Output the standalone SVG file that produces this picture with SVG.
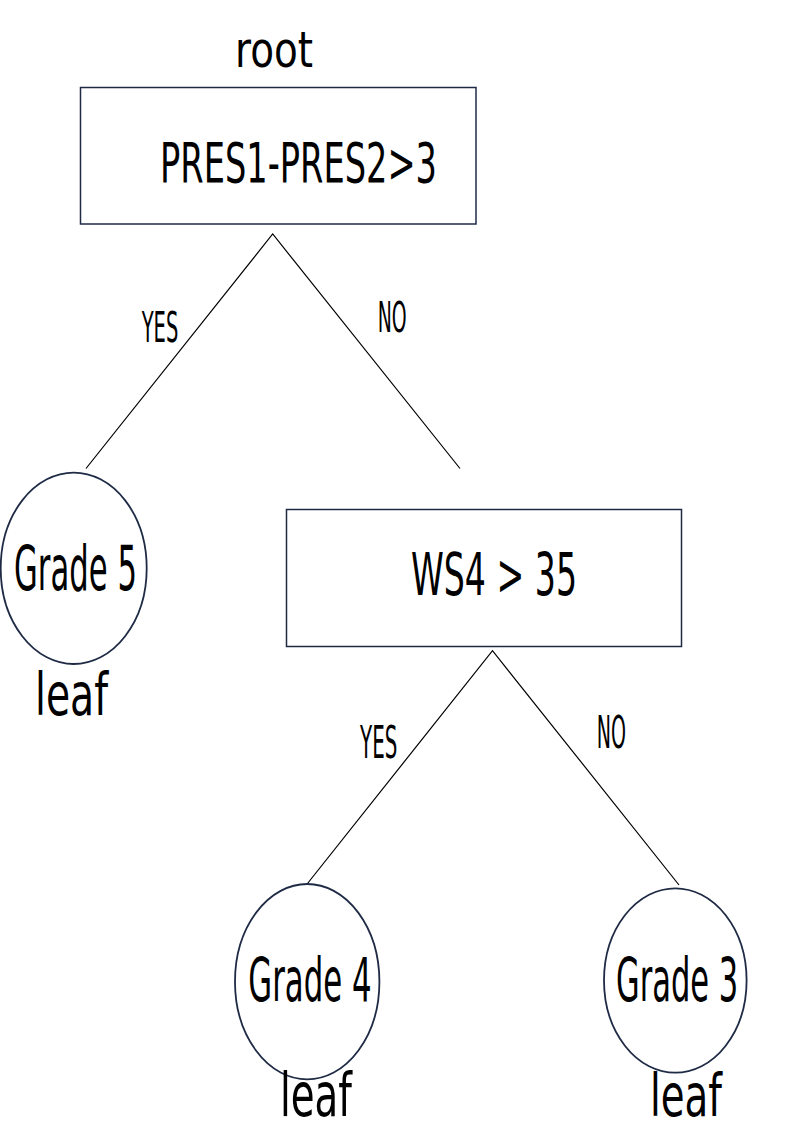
<svg xmlns="http://www.w3.org/2000/svg" width="794" height="1123" viewBox="0 0 794 1123">
<style>
.box{fill:#fff;stroke:#1f2b45;stroke-width:1.5}
.leafnode{fill:#fff;stroke:#1f2b45;stroke-width:1.8}
.edge{stroke:#000;stroke-width:1.2;fill:none}
text{font-family:"DejaVu Sans","Liberation Sans",sans-serif;fill:#000}
</style>
<rect width="794" height="1123" fill="#fff"/>
<g id="connectors">
<polyline class="edge" points="86,468.5 272.7,234 460,468.5"/>
<polyline class="edge" points="306.7,884.5 492.5,650.7 679,885"/>
<text x="141.7" y="341.7" font-size="42.5" textLength="36.6" lengthAdjust="spacingAndGlyphs">YES</text>
<text x="377.7" y="331.7" font-size="43.5" textLength="29" lengthAdjust="spacingAndGlyphs">NO</text>
<text x="360" y="758.3" font-size="45" textLength="37.3" lengthAdjust="spacingAndGlyphs">YES</text>
<text x="596.7" y="748.3" font-size="45" textLength="29.3" lengthAdjust="spacingAndGlyphs">NO</text>
</g>
<g id="root">
<text x="235" y="66.7" font-size="50" textLength="78" lengthAdjust="spacingAndGlyphs">root</text>
<rect class="box" x="80.5" y="87.5" width="395.5" height="136.5"/>
<text x="160" y="182" font-size="55" textLength="277" lengthAdjust="spacingAndGlyphs">PRES1-PRES2&gt;3</text>
</g>
<g id="grade5">
<ellipse class="leafnode" cx="73.7" cy="568.3" rx="73" ry="95.7"/>
<text x="14" y="590" font-size="62" textLength="123" lengthAdjust="spacingAndGlyphs">Grade 5</text>
<text x="35" y="715" font-size="58" textLength="73" lengthAdjust="spacingAndGlyphs">leaf</text>
</g>
<g id="ws4">
<rect class="box" x="286.5" y="509.5" width="395" height="137"/>
<text x="411" y="595" font-size="59" textLength="166" lengthAdjust="spacingAndGlyphs">WS4 &gt; 35</text>
</g>
<g id="grade4">
<ellipse class="leafnode" cx="307.2" cy="981.7" rx="72.2" ry="97.7"/>
<text x="248.3" y="1000.7" font-size="61" textLength="123.4" lengthAdjust="spacingAndGlyphs">Grade 4</text>
<text x="280" y="1116" font-size="60" textLength="72" lengthAdjust="spacingAndGlyphs">leaf</text>
</g>
<g id="grade3">
<ellipse class="leafnode" cx="675.3" cy="980.5" rx="71.3" ry="92.2"/>
<text x="616" y="1000.7" font-size="61" textLength="122.3" lengthAdjust="spacingAndGlyphs">Grade 3</text>
<text x="650" y="1116" font-size="58" textLength="72" lengthAdjust="spacingAndGlyphs">leaf</text>
</g>
</svg>
